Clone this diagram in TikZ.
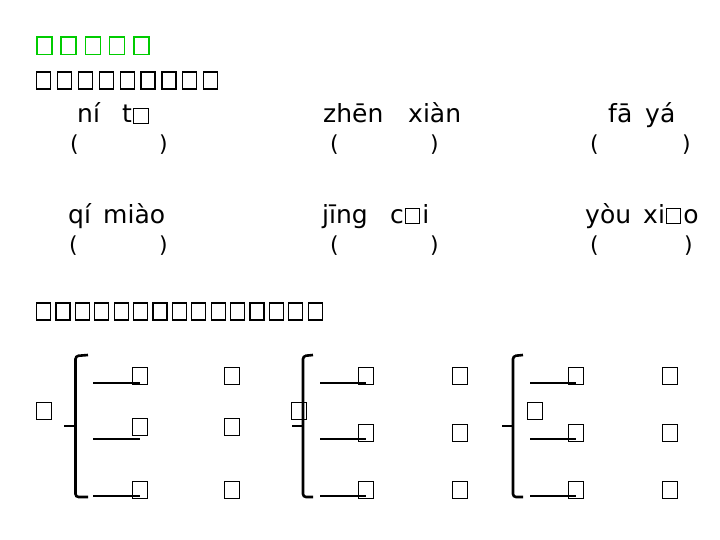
\documentclass[tikz,border=0pt]{standalone}
\usepackage{fontspec}
\setmainfont{DejaVu Sans}
\usetikzlibrary{positioning}
\definecolor{titlegreen}{RGB}{0,204,0}
% missing glyph box inside the pinyin, as the slide shows it
\newcommand{\tofuin}{\hbox to 0.74em{\hspace{0.04em}{\setlength{\fboxsep}{0pt}\setlength{\fboxrule}{1pt}\fbox{\rule{0pt}{0.56em}\hspace{0.54em}}}\hss}}
\tikzset{
  txt/.style={inner sep=0pt, anchor=base west},
  glyph/.style={draw, line width=1pt, minimum width=15, minimum height=17, inner sep=0pt}
}

\begin{document}
\begin{tikzpicture}[
    x=1pt, y=-1pt,
    heading/.style={glyph, draw=titlegreen, line width=1.5pt, minimum width=15, minimum height=17.5},
    task/.style={glyph, line width=1.2pt, minimum width=14},
    py/.style={txt, font=\fontsize{25}{25}\selectfont},
    paren/.style={txt, font=\fontsize{22}{22}\selectfont},
    brace/.style={line width=2.6pt, rounded corners=3pt},
    blank/.style={line width=2pt}
]
\useasboundingbox (0,0) rectangle (720,540);

% Headings (missing glyphs)
\foreach \i in {0,...,4}
  \node[heading] (title\i) at (44.5+24.2*\i,46) {};
\foreach \i in {0,...,8}
  \node[task] (taskA\i) at (43.5+20.9*\i,80.5) {};

% Pinyin, first row
\node[py] (ni) at (77,123) {ní};
\node[py] (tu) at (122,123) {t\tofuin};
\node[py] (zhen) at (323,123) {zhēn};
\node[py] (xian) at (408,123) {xiàn};
\node[py] (fa) at (608,123) {fā};
\node[py] (ya) at (645,123) {yá};
\node[paren] (pa1) at (70,152) {(};
\node[paren] (pb1) at (159,152) {)};
\node[paren] (pa2) at (330,152) {(};
\node[paren] (pb2) at (430,152) {)};
\node[paren] (pa3) at (590,152) {(};
\node[paren] (pb3) at (682,152) {)};

% Pinyin, second row
\node[py] (qi) at (68,223) {qí};
\node[py] (miao) at (103,223) {miào};
\node[py] (jing) at (322,223) {jīng};
\node[py] (cai) at (390,223) {c\tofuin i};
\node[py] (you) at (585,223) {yòu};
\node[py] (xiao) at (643,223) {xi\tofuin o};
\node[paren] (pa4) at (69,252) {(};
\node[paren] (pb4) at (159,252) {)};
\node[paren] (pa5) at (330,252) {(};
\node[paren] (pb5) at (430,252) {)};
\node[paren] (pa6) at (590,252) {(};
\node[paren] (pb6) at (684,252) {)};

% Second task
\foreach \i in {0,...,14}
  \node[task] (taskB\i) at (43.5+19.4*\i,311.5) {};

% Groups: brace x / hook / notch / left box x / blank start / column 1 / column 2 / middle row
\foreach \g/\bx/\hk/\nt/\lx/\ux/\ca/\cb/\my in {
    1/75.5/88/64/43.5/93/139.5/232/426.5,
    2/303/313/292/299/320/366/459.5/432.5,
    3/513/523/502/535/530/576/669.5/432.5} {
  \node[glyph] (head\g) at (\lx,410.5) {};
  \draw[brace] (\hk,355) -- (\bx,356) -- (\bx,497) -- (\hk,497);
  \draw[brace, rounded corners=0pt] (\nt,426) -- (\bx,426);
  \node[glyph] (a\g) at (\ca,375.5) {};
  \node[glyph] (b\g) at (\ca,\my) {};
  \node[glyph] (c\g) at (\ca,490) {};
  \node[glyph] (d\g) at (\cb,375.5) {};
  \node[glyph] (e\g) at (\cb,\my) {};
  \node[glyph] (f\g) at (\cb,490) {};
  \coordinate (ua\g) at (\ux,383);
  \coordinate (ub\g) at (\ux,439);
  \coordinate (uc\g) at (\ux,496);
  \draw[blank] (ua\g) -- (ua\g -| a\g);
  \draw[blank] (ub\g) -- (ub\g -| b\g);
  \draw[blank] (uc\g) -- (uc\g -| c\g);
}

\end{tikzpicture}
\end{document}
